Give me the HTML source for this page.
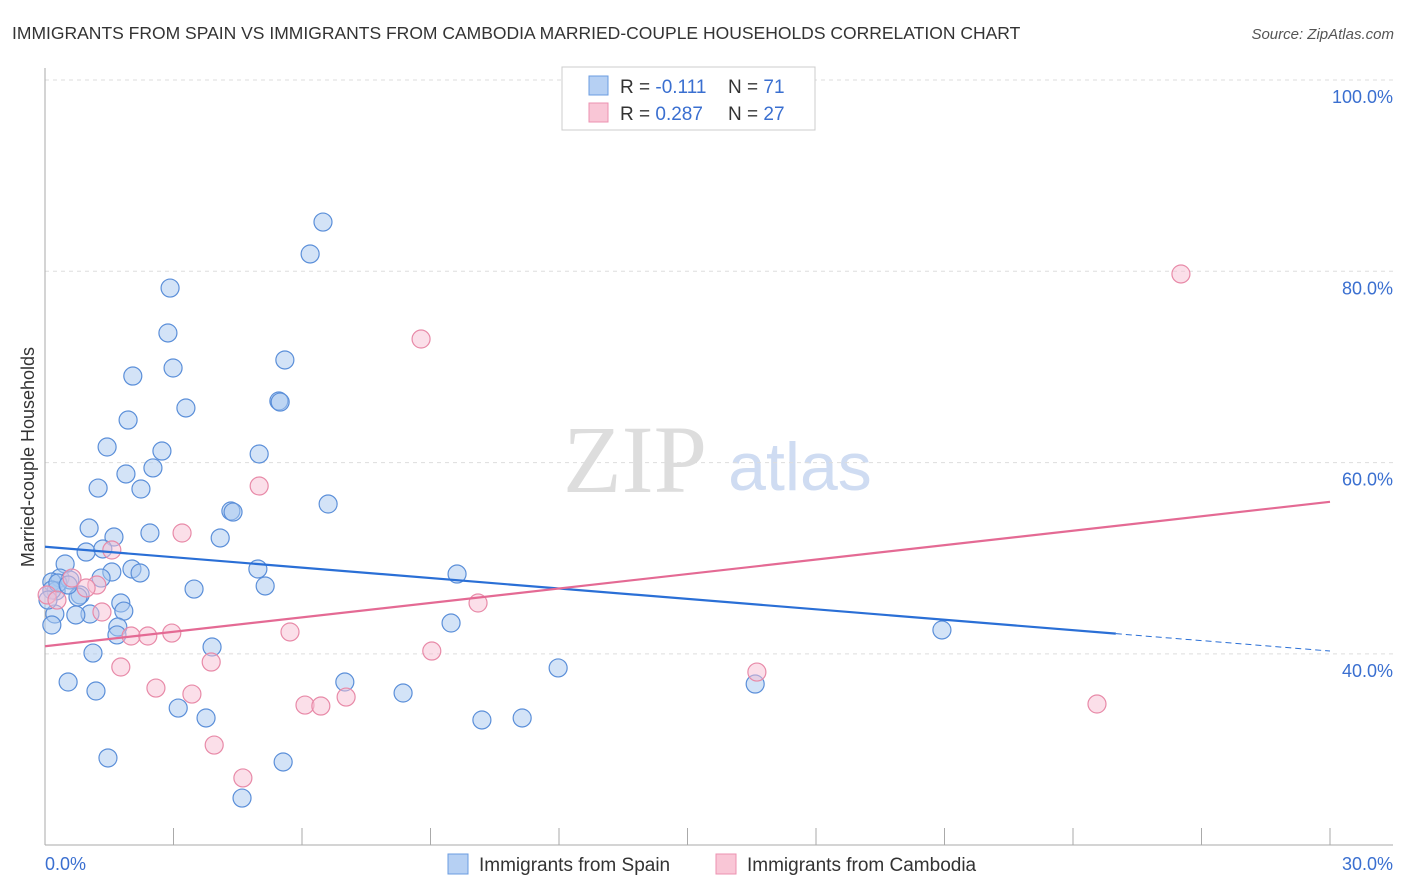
<!DOCTYPE html>
<html><head><meta charset="utf-8"><style>
body{margin:0;background:#fff;font-family:"Liberation Sans",sans-serif;}
#wrap{position:relative;width:1406px;height:892px;overflow:hidden;}
</style></head><body>
<div id="wrap">
<svg id="svg" width="1406" height="892" xmlns="http://www.w3.org/2000/svg" font-family="Liberation Sans, sans-serif">
<text x="12" y="39" font-size="17.5" fill="#333">IMMIGRANTS FROM SPAIN VS IMMIGRANTS FROM CAMBODIA MARRIED-COUPLE HOUSEHOLDS CORRELATION CHART</text>
<text x="1394" y="39" font-size="15" fill="#555" font-style="italic" text-anchor="end">Source: ZipAtlas.com</text>
<text x="635" y="492" font-size="96" fill="#ddd" font-family="Liberation Serif, serif" text-anchor="middle">ZIP</text>
<text x="800" y="490" font-size="68" fill="#cfdcf2" text-anchor="middle">atlas</text>
<text transform="translate(34,457) rotate(-90)" font-size="18" fill="#333" text-anchor="middle">Married-couple Households</text>
<g id="grid"></g><g id="marks"></g>
<g>
<rect x="562" y="67" width="253" height="63" fill="#fff" stroke="#ccc"/>
<rect x="589" y="76" width="19" height="19" fill="#b6d0f3" stroke="#6b9ce0"/>
<rect x="589" y="103" width="19" height="19" fill="#f9c6d6" stroke="#ec92b0"/>
<text x="620" y="93" font-size="19" fill="#333">R = <tspan fill="#3a6fd0">-0.111</tspan><tspan x="728">N = </tspan><tspan fill="#3a6fd0">71</tspan></text>
<text x="620" y="120" font-size="19" fill="#333">R = <tspan fill="#3a6fd0">0.287</tspan><tspan x="728">N = </tspan><tspan fill="#3a6fd0">27</tspan></text>
</g>
<g>
<rect x="448" y="854" width="20" height="20" fill="#b6d0f3" stroke="#6b9ce0"/>
<text x="479" y="871" font-size="19" fill="#333">Immigrants from Spain</text>
<rect x="716" y="854" width="20" height="20" fill="#f9c6d6" stroke="#ec92b0"/>
<text x="747" y="871" font-size="19" fill="#333">Immigrants from Cambodia</text>
</g>
</svg>
</div>
<script>
const yTicks=[100,80,60,40];
const xTickLabels=["0.0%","30.0%"];
const spainX=[6.49,6.19,2.92,2.87,2.99,5.60,2.05,3.29,5.46,5.49,1.94,1.45,2.73,5.00,2.52,1.89,1.24,2.24,4.34,4.39,6.61,2.45,1.03,1.61,4.09,0.96,1.35,0.47,2.03,2.22,1.56,4.97,9.62,0.35,0.16,0.58,1.31,3.48,5.14,0.82,0.77,0.26,0.16,1.77,1.84,1.05,0.72,0.23,0.16,1.70,1.68,3.90,9.48,20.94,1.12,11.98,7.00,0.54,1.19,8.36,16.58,3.11,3.76,10.20,11.14,1.47,5.56,4.60,0.07,0.30,0.54];
const spainY=[85.15,81.81,78.25,73.55,69.89,70.73,69.05,65.71,66.44,66.33,64.45,61.63,61.21,60.90,59.44,58.81,57.34,57.24,54.94,54.83,55.67,52.64,53.16,52.22,52.12,50.65,50.97,49.40,48.88,48.46,48.56,48.88,48.35,47.93,47.52,47.73,47.93,46.78,47.10,46.16,45.95,46.58,46.68,45.32,44.48,44.17,44.07,44.17,43.02,42.81,41.98,40.72,43.23,42.50,40.09,38.53,37.06,37.06,36.12,35.91,36.85,34.34,33.30,33.09,33.30,29.12,28.70,24.93,45.63,47.41,47.20];
const cambX=[26.52,8.78,5.00,3.20,1.56,0.63,1.21,0.96,1.33,0.05,0.28,10.11,5.72,2.96,2.01,2.40,9.03,3.88,1.77,16.62,2.59,3.43,7.03,6.07,6.44,24.56,3.95,4.62];
const cambY=[79.72,72.92,57.55,52.64,50.86,47.93,47.20,46.89,44.38,46.16,45.63,45.32,42.29,42.18,41.87,41.87,40.30,39.15,38.63,38.10,36.43,35.80,35.49,34.65,34.55,34.76,30.47,27.03];
const spainTrend=[51.2,40.3]; const spainSolidEnd=25.0;
const cambTrend=[40.8,55.9];
const X=v=>45+v/30*1285, Y=v=>80+(100-v)*9.565;
const NS="http://www.w3.org/2000/svg";
function mk(p,t,a){const e=document.createElementNS(NS,t);for(const k in a)e.setAttribute(k,a[k]);p.appendChild(e);return e;}
const grid=document.getElementById('grid'),marks=document.getElementById('marks');
yTicks.forEach(t=>{
 const l=mk(grid,'line',{x1:45,x2:1393,y1:Y(t),y2:Y(t),stroke:'#ddd','stroke-dasharray':'4,4'});
 
 
 const tx=mk(grid,'text',{x:1393,y:Y(t)+23,'font-size':18,fill:'#3a6fd0','text-anchor':'end'});
 tx.textContent=t.toFixed(1)+'%';
 
 
});
const ax=mk(grid,'line',{x1:45,x2:45,y1:68,y2:845,stroke:'#aaa'});


const bx=mk(grid,'line',{x1:45,x2:1393,y1:845,y2:845,stroke:'#aaa'});


for(let i=0;i<=10;i++){const t=mk(grid,'line',{x1:X(i*3),x2:X(i*3),y1:828,y2:845,stroke:'#aaa'});
 
 }
[[0,'start',45],[1,'end',1393]].forEach(([i,a,x])=>{const t=mk(grid,'text',{x:x,y:870,'font-size':18,fill:'#3a6fd0','text-anchor':a});t.textContent=xTickLabels[i];
 
 });
function dots(xs,ys,fill,stroke,name){xs.forEach((x,i)=>{const c=mk(marks,'circle',{cx:X(x),cy:Y(ys[i]),r:9,fill:fill,stroke:stroke,'stroke-width':1.2});
 
 });}
dots(spainX,spainY,'rgba(168,200,240,0.5)','#5b8fd9','spain-point');
dots(cambX,cambY,'rgba(248,192,212,0.5)','#e88aa8','cambodia-point');
const sY=x=>spainTrend[0]+(spainTrend[1]-spainTrend[0])*x/30;
const l1=mk(marks,'line',{x1:X(0),y1:Y(sY(0)),x2:X(spainSolidEnd),y2:Y(sY(spainSolidEnd)),stroke:'#2a6fd6','stroke-width':2.2});


const l2=mk(marks,'line',{x1:X(spainSolidEnd),y1:Y(sY(spainSolidEnd)),x2:X(30),y2:Y(sY(30)),stroke:'#2a6fd6','stroke-width':1,'stroke-dasharray':'6,4'});


const l3=mk(marks,'line',{x1:X(0),y1:Y(cambTrend[0]),x2:X(30),y2:Y(cambTrend[1]),stroke:'#e46a94','stroke-width':2.2});


</script>
</body></html>
